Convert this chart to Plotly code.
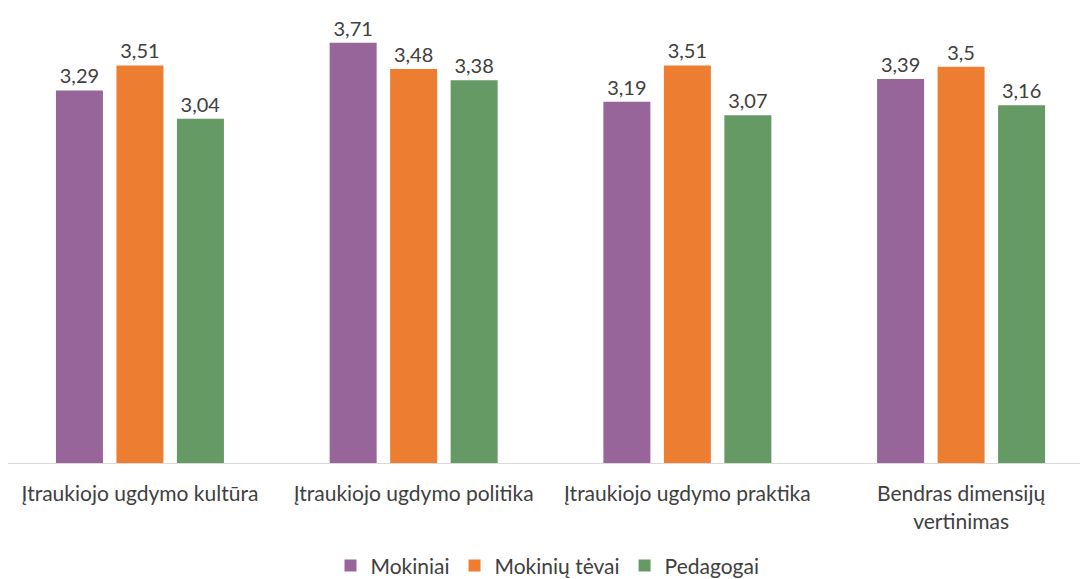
import plotly.graph_objects as go

categories = ["Įtraukiojo ugdymo kultūra", "Įtraukiojo ugdymo politika",
              "Įtraukiojo ugdymo praktika", "Bendras dimensijų<br>vertinimas"]
mokiniai = [3.29, 3.71, 3.19, 3.39]
tevai = [3.51, 3.48, 3.51, 3.50]
pedagogai = [3.04, 3.38, 3.07, 3.16]

series = [("Mokiniai", mokiniai, "#97659A"),
          ("Mokinių tėvai", tevai, "#ED7D31"),
          ("Pedagogai", pedagogai, "#659A64")]

FONT = "Lato, Liberation Sans, sans-serif"
TXT = "#404040"

fig = go.Figure()
for name, vals, color in series:
    fig.add_trace(go.Bar(
        x=categories, y=vals, name=name,
        marker=dict(color=color, line=dict(width=0)),
        text=vals, texttemplate="%{y}", textposition="outside",
        textfont=dict(size=20, color=TXT, family=FONT),
        cliponaxis=False,
    ))

# the page places the figure at an 8px offset, so size it to the visible area
fig.update_layout(
    width=1080, height=571,
    margin=dict(l=0, r=1, t=2, b=116, autoexpand=False),
    paper_bgcolor="white", plot_bgcolor="white",
    separators=", ",
    barmode="group", bargap=0.337, bargroupgap=0.223,
    font=dict(family=FONT, size=21, color=TXT),
    showlegend=True,
    legend=dict(orientation="h", x=0.5, xanchor="center", y=-0.227, yanchor="middle",
                font=dict(size=21, color=TXT), itemwidth=30, traceorder="normal"),
    xaxis=dict(showline=True, linecolor="#D9D9D9", linewidth=1, ticks="",
               showgrid=False, tickfont=dict(size=21, color=TXT),
               range=[-0.482, 3.46], ticklabelstandoff=12, automargin=False),
    yaxis=dict(range=[0, 4], visible=False, showgrid=False, automargin=False),
)

fig.write_html("out.html")
